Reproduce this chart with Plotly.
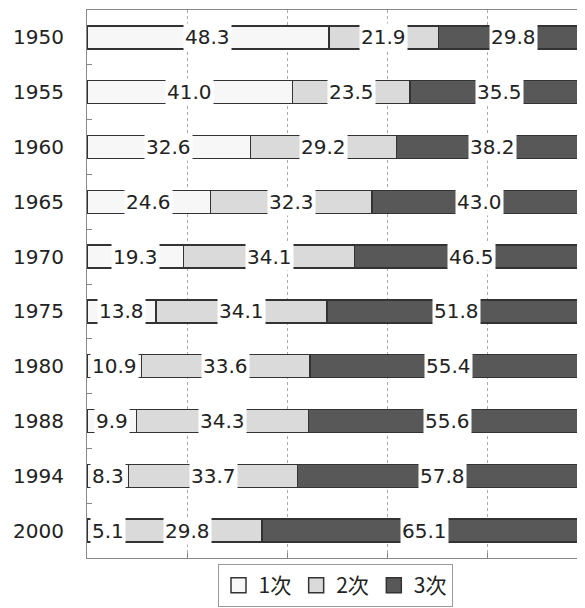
import plotly.graph_objects as go

# 産業別就業者割合 (%)
years = ["1950", "1955", "1960", "1965", "1970", "1975", "1980", "1988", "1994", "2000"]
primary = [48.3, 41.0, 32.6, 24.6, 19.3, 13.8, 10.9, 9.9, 8.3, 5.1]
secondary = [21.9, 23.5, 29.2, 32.3, 34.1, 34.1, 33.6, 34.3, 33.7, 29.8]
tertiary = [29.8, 35.5, 38.2, 43.0, 46.5, 51.8, 55.4, 55.6, 57.8, 65.1]

series = [
    ("1次", primary, "#f7f7f7"),
    ("2次", secondary, "#dadada"),
    ("3次", tertiary, "#585858"),
]

FONT = "DejaVu Sans, Noto Sans CJK JP, sans-serif"
LEGEND_FONT = "Noto Sans CJK JP, DejaVu Sans, sans-serif"
EDGE = "#333333"

pos = list(range(len(years)))

fig = go.Figure()
for name, vals, color in series:
    fig.add_trace(go.Bar(
        y=pos,
        x=vals,
        name=name,
        orientation="h",
        showlegend=False,
        marker=dict(color=color, line=dict(color=EDGE, width=1.5)),
    ))

# legend entries with bigger square swatches
for name, vals, color in series:
    fig.add_trace(go.Scatter(
        x=[None], y=[None], mode="markers", name=name,
        marker=dict(symbol="square", size=15, color=color,
                    line=dict(color=EDGE, width=1.5)),
    ))

# value labels with white box, centred on each segment
annotations = []
for i in pos:
    start = 0.0
    for name, vals, color in series:
        v = vals[i]
        ann = dict(
            x=start + v / 2, y=i, xref="x", yref="y",
            text=f"{v:.1f}", showarrow=False,
            font=dict(family=FONT, size=20, color="#222222"),
            bgcolor="white", borderpad=1,
        )
        if v < 6:  # too narrow to centre: start just inside the bar
            ann.update(x=start, xanchor="left", xshift=3)
        annotations.append(ann)
        start += v

# page body has an 8px margin; keep the figure inside the window
fig.update_layout(
    barmode="stack",
    bargap=0.58,
    width=577,
    height=600,
    margin=dict(l=79, r=0, t=2, b=50, autoexpand=False),
    paper_bgcolor="white",
    plot_bgcolor="white",
    font=dict(family=FONT, size=20, color="#222222"),
    annotations=annotations,
    legend=dict(
        orientation="h",
        x=0.498, xanchor="center",
        y=-0.011, yanchor="top",
        bordercolor="#999999", borderwidth=1,
        font=dict(family=LEGEND_FONT, size=21, color="#222222"),
        traceorder="normal",
        itemwidth=30,
    ),
)
fig.update_xaxes(
    range=[0, 99.4],
    dtick=20,
    showticklabels=False,
    showgrid=True,
    gridcolor="#aaaaaa",
    griddash="dot",
    gridwidth=1,
    zeroline=False,
    showline=True,
    mirror=True,
    linecolor="#888888",
    ticks="inside",
    ticklen=5,
    tickcolor="#888888",
)
fig.update_yaxes(
    range=[len(years) - 0.5, -0.5],
    tickmode="array",
    tickvals=pos,
    ticktext=years,
    ticks="",
    showgrid=False,
    zeroline=False,
    showline=True,
    mirror=True,
    linecolor="#888888",
    ticklabelstandoff=18,
    tickfont=dict(family=FONT, size=20, color="#222222"),
    minor=dict(
        tickvals=[p + 0.5 for p in pos[:-1]],
        ticks="inside",
        ticklen=5,
        tickcolor="#888888",
        showgrid=False,
    ),
)

fig.write_html("out.html")
